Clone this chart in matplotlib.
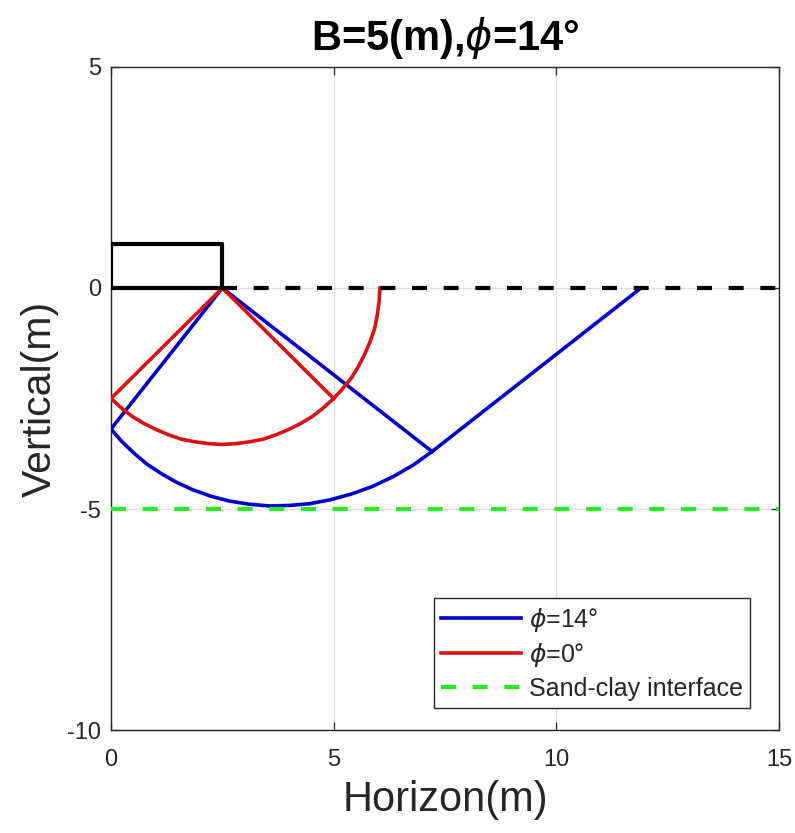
import numpy as np
import matplotlib.pyplot as plt

plt.rcParams['font.family'] = ['Liberation Sans', 'DejaVu Sans']
plt.rcParams['mathtext.fontset'] = 'dejavusans'
plt.rcParams['axes.unicode_minus'] = False

# footing (B/2 = 2.5 m wide, 1 m tall)
footing_x = [0, 0, 2.5, 2.5, 0]
footing_y = [0, 1, 1, 0, 0]

# ground surface right of footing
ground_x = [2.5, 15]
ground_y = [0, 0]

# sand-clay interface
interface_x = [0, 15]
interface_y = [-5, -5]

# phi = 14 deg failure surface (active wedge + log spiral + passive wedge)
blue_x = [2.5, 0.0, 0.24, 0.51, 0.80, 1.13, 1.48, 1.85, 2.24, 2.66, 3.09,
          3.54, 4.00, 4.46, 4.93, 5.40, 5.87, 6.33, 6.78, 7.21, 11.90]
blue_y = [0.0, -3.19, -3.47, -3.73, -3.98, -4.20, -4.40, -4.57, -4.71, -4.82, -4.89,
          -4.93, -4.92, -4.88, -4.79, -4.66, -4.49, -4.27, -4.01, -3.70, 0.0]
blue_ray_x = [2.5, 7.21]
blue_ray_y = [0.0, -3.70]

# phi = 0 deg failure surface (circular arc)
red_x = [5.0, 2.5, 0.0, 0.23, 0.47, 0.73, 1.01, 1.29, 1.58, 1.89, 2.19, 2.5,
         2.81, 3.11, 3.42, 3.71, 3.99, 4.27, 4.53, 4.77, 5.0, 5.21, 5.40,
         5.56, 5.70, 5.82, 5.92, 5.98, 6.02, 6.04]
red_y = [-2.5, 0.0, -2.5, -2.71, -2.90, -3.06, -3.20, -3.32, -3.42, -3.48, -3.52, -3.54,
         -3.52, -3.48, -3.42, -3.32, -3.20, -3.06, -2.90, -2.71, -2.5, -2.27, -2.03,
         -1.77, -1.49, -1.21, -0.92, -0.61, -0.31, 0.0]

fig = plt.figure(figsize=(7.95, 8.33), dpi=100)
ax = fig.add_axes([0.1396, 0.1236, 0.8403, 0.796])

txt = '#262626'
blue = '#0000cc'
red = '#dd1111'
green = '#22ee22'

ax.plot(blue_x, blue_y, color=blue, lw=2.6, label=r'$\phi$=14°', zorder=3)
ax.plot(blue_ray_x, blue_ray_y, color=blue, lw=2.6, zorder=3)
ax.plot(red_x, red_y, color=red, lw=2.6, label=r'$\phi$=0°', zorder=4)
ax.plot(footing_x, footing_y, color='black', lw=3, zorder=5)
ax.plot(ground_x, ground_y, color='black', lw=3, dashes=(3.6, 4.0), zorder=5)
ax.plot(interface_x, interface_y, color=green, lw=3, dashes=(3.6, 4.0),
        label='Sand-clay interface', zorder=5)

ax.set_xlim(0, 15)
ax.set_ylim(-10, 5)
ax.set_xticks([0, 5, 10, 15])
ax.set_yticks([-10, -5, 0, 5])
ax.grid(True, color='#dedede', lw=0.9)
ax.set_axisbelow(True)
ax.tick_params(direction='in', length=6, width=0.9, top=True, right=True,
               labelsize=17, colors=txt)
ax.tick_params(axis='x', pad=14)
ax.tick_params(axis='y', pad=7)
for s in ax.spines.values():
    s.set_color(txt)
    s.set_linewidth(1.0)

ax.set_xlabel('Horizon(m)', fontsize=30, color=txt, labelpad=6)
ax.set_ylabel('Vertical(m)', fontsize=29.5, color=txt, labelpad=6)
ax.set_title(r'B=5(m),$\phi$=14°', fontsize=30, fontweight='bold', pad=12)

leg = ax.legend(loc='lower right', bbox_to_anchor=(0.9566, 0.0332), borderaxespad=0,
                fontsize=18, handlelength=3.2, handletextpad=0.3, labelspacing=0.3,
                borderpad=0.3, fancybox=False, framealpha=1)
leg.get_frame().set_edgecolor(txt)
leg.get_frame().set_linewidth(1.0)
for t in leg.get_texts():
    t.set_color(txt)

fig.savefig('out.png', dpi=100)
